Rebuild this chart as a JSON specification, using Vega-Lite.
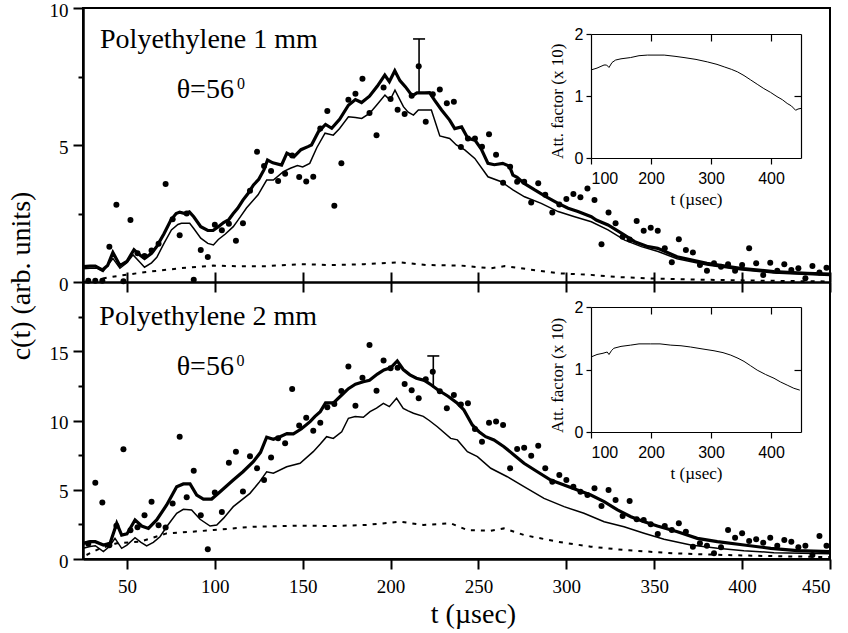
{
"$schema":"https://vega.github.io/schema/vega-lite/v6.json",
"width":747,"height":551,
"autosize":{"type":"none"},
"padding":{"left":83,"top":8,"right":18,"bottom":74},
"background":"white",
"config":{
 "view":{"stroke":"black","strokeWidth":2},
 "font":"Liberation Serif, Times New Roman, Times, serif",
 "text":{"font":"Liberation Serif, Times New Roman, Times, serif"},
 "axis":{"grid":false,"labelOverlap":false,"domainColor":"black","tickColor":"black","labelColor":"black","titleColor":"black","labelFont":"Liberation Serif, Times New Roman, Times, serif","titleFont":"Liberation Serif, Times New Roman, Times, serif","titleFontWeight":"normal","tickWidth":2,"domainWidth":2,"labelFontSize":19}
},
"datasets":{
 "pts1":[{"t":28,"c":0.05},{"t":32,"c":0.05},{"t":36,"c":0.05},{"t":40,"c":1.29},{"t":44,"c":2.82},{"t":48,"c":0.03},{"t":52,"c":2.26},{"t":56,"c":1.05},{"t":60,"c":0.95},{"t":64,"c":1.15},{"t":68,"c":1.4},{"t":72,"c":3.58},{"t":76,"c":2.29},{"t":80,"c":1.71},{"t":84,"c":2.5},{"t":88,"c":0.08},{"t":92,"c":1.17},{"t":96,"c":0.91},{"t":100,"c":2.09},{"t":104,"c":1.89},{"t":108,"c":2.13},{"t":112,"c":1.51},{"t":116,"c":2.14},{"t":120,"c":3.33},{"t":124,"c":4.75},{"t":128,"c":4.23},{"t":132,"c":4.05},{"t":136,"c":3.69},{"t":140,"c":3.95},{"t":144,"c":4.62},{"t":148,"c":3.83},{"t":152,"c":3.67},{"t":156,"c":3.84},{"t":160,"c":5.6},{"t":164,"c":6.24},{"t":168,"c":2.78},{"t":172,"c":4.33},{"t":176,"c":6.65},{"t":180,"c":6.87},{"t":184,"c":7.42},{"t":188,"c":6.17},{"t":192,"c":5.36},{"t":196,"c":7.1},{"t":200,"c":6.68},{"t":204,"c":6.29},{"t":208,"c":6.13},{"t":212,"c":6.8},{"t":216,"c":7.87},{"t":220,"c":5.85},{"t":224,"c":6.85},{"t":228,"c":7.03},{"t":232,"c":6.52},{"t":236,"c":6.58},{"t":240,"c":4.93},{"t":244,"c":5.24},{"t":248,"c":5.24},{"t":252,"c":4.94},{"t":256,"c":5.39},{"t":260,"c":4.64},{"t":264,"c":3.62},{"t":268,"c":4.21},{"t":272,"c":3.66},{"t":276,"c":3.66},{"t":280,"c":2.9},{"t":284,"c":3.6},{"t":288,"c":3.18},{"t":292,"c":2.54},{"t":296,"c":2.83},{"t":300,"c":3.03},{"t":304,"c":3.21},{"t":308,"c":3.09},{"t":312,"c":3.41},{"t":316,"c":2.99},{"t":320,"c":1.38},{"t":324,"c":2.54},{"t":328,"c":2.14},{"t":332,"c":1.65},{"t":336,"c":1.55},{"t":340,"c":2.23},{"t":344,"c":1.87},{"t":348,"c":1.98},{"t":352,"c":1.87},{"t":356,"c":1.23},{"t":360,"c":0.72},{"t":364,"c":1.56},{"t":368,"c":1.17},{"t":372,"c":1.08},{"t":376,"c":0.62},{"t":380,"c":0.41},{"t":384,"c":0.68},{"t":388,"c":0.56},{"t":392,"c":0.65},{"t":396,"c":0.41},{"t":400,"c":0.62},{"t":404,"c":1.23},{"t":408,"c":0.68},{"t":412,"c":0.26},{"t":416,"c":0.7},{"t":420,"c":0.41},{"t":424,"c":0.65},{"t":428,"c":0.44},{"t":432,"c":0.5},{"t":436,"c":0.14},{"t":440,"c":0.58},{"t":444,"c":0.35},{"t":448,"c":0.52}],
 "thick1":[{"t":25,"c":0.56},{"t":29,"c":0.58},{"t":32,"c":0.58},{"t":36,"c":0.44},{"t":39,"c":0.6},{"t":42,"c":1.08},{"t":46,"c":0.6},{"t":50,"c":0.75},{"t":54,"c":1.18},{"t":57,"c":1.0},{"t":60,"c":0.86},{"t":64,"c":1.05},{"t":67,"c":1.3},{"t":71,"c":1.75},{"t":75,"c":2.26},{"t":78,"c":2.5},{"t":80,"c":2.55},{"t":83,"c":2.5},{"t":85.5,"c":2.56},{"t":88,"c":2.38},{"t":92,"c":2.02},{"t":96,"c":1.88},{"t":99,"c":1.88},{"t":102,"c":2.02},{"t":105,"c":2.17},{"t":108,"c":2.28},{"t":110.5,"c":2.5},{"t":113,"c":2.69},{"t":116,"c":2.99},{"t":119,"c":3.24},{"t":122,"c":3.54},{"t":125,"c":3.75},{"t":128,"c":4.1},{"t":130,"c":4.45},{"t":133,"c":4.35},{"t":138,"c":4.27},{"t":141,"c":4.7},{"t":145,"c":4.57},{"t":149,"c":4.83},{"t":153,"c":4.94},{"t":155,"c":5.0},{"t":159,"c":5.49},{"t":163,"c":5.75},{"t":166.5,"c":5.61},{"t":171,"c":5.94},{"t":176,"c":6.45},{"t":180,"c":6.66},{"t":183.5,"c":6.55},{"t":188,"c":6.78},{"t":192.5,"c":7.15},{"t":196.7,"c":7.55},{"t":199.3,"c":7.31},{"t":202.4,"c":7.71},{"t":205.3,"c":7.35},{"t":208.5,"c":7.12},{"t":212.3,"c":6.79},{"t":215,"c":6.9},{"t":219.4,"c":6.9},{"t":222.2,"c":6.91},{"t":225,"c":6.64},{"t":229,"c":6.28},{"t":233.6,"c":5.91},{"t":236.5,"c":5.6},{"t":240.4,"c":5.66},{"t":244,"c":5.24},{"t":248,"c":5.18},{"t":251.6,"c":4.85},{"t":255.4,"c":4.33},{"t":259,"c":4.28},{"t":263.8,"c":4.33},{"t":267.7,"c":4.22},{"t":269.6,"c":3.9},{"t":272,"c":3.82},{"t":276,"c":3.6},{"t":282,"c":3.36},{"t":288.6,"c":3.11},{"t":295.3,"c":2.87},{"t":301,"c":2.69},{"t":306.6,"c":2.57},{"t":314.2,"c":2.38},{"t":317,"c":2.26},{"t":323.7,"c":2.08},{"t":331.3,"c":1.78},{"t":338.9,"c":1.47},{"t":346.5,"c":1.29},{"t":352,"c":1.23},{"t":363,"c":0.92},{"t":380,"c":0.68},{"t":399,"c":0.5},{"t":418,"c":0.38},{"t":437,"c":0.32},{"t":450,"c":0.29}],
 "thin1":[{"t":25,"c":0.48},{"t":29,"c":0.5},{"t":33,"c":0.5},{"t":36.4,"c":0.38},{"t":42,"c":0.86},{"t":46,"c":0.5},{"t":50,"c":0.7},{"t":53.5,"c":0.99},{"t":57,"c":0.75},{"t":60,"c":0.54},{"t":64,"c":0.7},{"t":67,"c":0.9},{"t":71,"c":1.4},{"t":75.3,"c":1.9},{"t":79,"c":2.1},{"t":81,"c":2.14},{"t":85.7,"c":2.14},{"t":88,"c":1.95},{"t":92,"c":1.6},{"t":96,"c":1.41},{"t":99.2,"c":1.35},{"t":102,"c":1.55},{"t":106,"c":1.75},{"t":110.5,"c":2.02},{"t":113.2,"c":2.26},{"t":118,"c":2.7},{"t":124.6,"c":3.18},{"t":129.5,"c":3.72},{"t":133.3,"c":3.72},{"t":139,"c":4.03},{"t":143,"c":4.15},{"t":147,"c":4.25},{"t":150,"c":4.2},{"t":154,"c":4.33},{"t":158,"c":4.9},{"t":162.7,"c":5.43},{"t":167.4,"c":5.36},{"t":171,"c":5.6},{"t":176,"c":6.03},{"t":180,"c":6.0},{"t":183.6,"c":5.97},{"t":188,"c":6.15},{"t":192,"c":6.45},{"t":196.8,"c":6.82},{"t":199.7,"c":6.64},{"t":202.5,"c":7.0},{"t":207.3,"c":6.4},{"t":210,"c":6.2},{"t":213,"c":6.09},{"t":215.8,"c":6.28},{"t":219.4,"c":6.28},{"t":223.2,"c":6.28},{"t":228,"c":5.33},{"t":233.6,"c":5.24},{"t":237.4,"c":5.0},{"t":242.2,"c":4.82},{"t":247.9,"c":4.51},{"t":255.4,"c":3.84},{"t":263,"c":3.66},{"t":269.6,"c":3.36},{"t":276.2,"c":3.11},{"t":285.7,"c":2.87},{"t":295.3,"c":2.57},{"t":304.7,"c":2.38},{"t":314.2,"c":2.2},{"t":323.7,"c":1.9},{"t":333.2,"c":1.53},{"t":342.7,"c":1.29},{"t":352.2,"c":1.11},{"t":363,"c":0.85},{"t":380,"c":0.62},{"t":399,"c":0.45},{"t":418,"c":0.33},{"t":437,"c":0.27},{"t":450,"c":0.24}],
 "dot1":[{"t":25,"c":0.0},{"t":30,"c":0.05},{"t":40,"c":0.17},{"t":50,"c":0.27},{"t":63,"c":0.38},{"t":80,"c":0.5},{"t":99,"c":0.6},{"t":115,"c":0.57},{"t":130,"c":0.58},{"t":148,"c":0.65},{"t":166,"c":0.62},{"t":185,"c":0.65},{"t":205,"c":0.72},{"t":220,"c":0.62},{"t":240,"c":0.6},{"t":257,"c":0.5},{"t":265,"c":0.58},{"t":280,"c":0.45},{"t":295,"c":0.32},{"t":314,"c":0.26},{"t":330,"c":0.18},{"t":348,"c":0.13},{"t":380,"c":0.08},{"t":420,"c":0.04},{"t":450,"c":0.02}],
 "att1":[{"t":100,"c":1.42},{"t":110,"c":1.45},{"t":121.7,"c":1.5},{"t":126,"c":1.5},{"t":130,"c":1.46},{"t":135,"c":1.54},{"t":141,"c":1.58},{"t":150,"c":1.6},{"t":166,"c":1.62},{"t":180,"c":1.65},{"t":194,"c":1.66},{"t":210,"c":1.66},{"t":222,"c":1.66},{"t":240,"c":1.64},{"t":255,"c":1.62},{"t":275,"c":1.59},{"t":294,"c":1.55},{"t":310,"c":1.51},{"t":322,"c":1.47},{"t":334,"c":1.43},{"t":344,"c":1.39},{"t":355,"c":1.33},{"t":366,"c":1.26},{"t":377,"c":1.19},{"t":388,"c":1.12},{"t":399,"c":1.06},{"t":410,"c":0.99},{"t":419,"c":0.94},{"t":427,"c":0.88},{"t":434,"c":0.84},{"t":441,"c":0.77},{"t":445,"c":0.79},{"t":450,"c":0.8}],
 "pts2":[{"t":28,"c":1.1},{"t":32,"c":5.5},{"t":36,"c":4.08},{"t":40,"c":1.0},{"t":44,"c":2.4},{"t":48,"c":7.93},{"t":52,"c":2.08},{"t":56,"c":2.3},{"t":60,"c":3.15},{"t":64,"c":4.14},{"t":68,"c":2.43},{"t":72,"c":2.27},{"t":76,"c":4.0},{"t":80,"c":8.83},{"t":84,"c":4.45},{"t":88,"c":6.38},{"t":92,"c":3.15},{"t":96,"c":0.7},{"t":100,"c":4.81},{"t":104,"c":3.4},{"t":108,"c":6.95},{"t":112,"c":7.75},{"t":116,"c":4.88},{"t":120,"c":7.41},{"t":124,"c":6.55},{"t":128,"c":5.7},{"t":132,"c":7.33},{"t":136,"c":8.71},{"t":140,"c":8.35},{"t":144,"c":12.27},{"t":148,"c":9.63},{"t":152,"c":10.2},{"t":156,"c":9.26},{"t":160,"c":9.84},{"t":164,"c":10.95},{"t":168,"c":11.19},{"t":172,"c":12.13},{"t":176,"c":13.89},{"t":180,"c":11.07},{"t":184,"c":13.09},{"t":188,"c":15.45},{"t":192,"c":12.15},{"t":196,"c":14.34},{"t":200,"c":13.77},{"t":204,"c":13.8},{"t":208,"c":12.64},{"t":212,"c":12.18},{"t":216,"c":11.6},{"t":220,"c":12.97},{"t":224,"c":13.52},{"t":228,"c":12.12},{"t":232,"c":10.88},{"t":236,"c":11.84},{"t":240,"c":11.15},{"t":244,"c":11.24},{"t":248,"c":9.39},{"t":252,"c":8.47},{"t":256,"c":9.84},{"t":260,"c":9.92},{"t":264,"c":9.68},{"t":268,"c":6.55},{"t":272,"c":7.94},{"t":276,"c":8.04},{"t":280,"c":7.46},{"t":284,"c":8.18},{"t":288,"c":6.55},{"t":292,"c":5.58},{"t":296,"c":6.06},{"t":300,"c":5.7},{"t":304,"c":5.22},{"t":308,"c":4.86},{"t":312,"c":4.62},{"t":316,"c":5.1},{"t":320,"c":3.83},{"t":324,"c":4.98},{"t":328,"c":4.26},{"t":332,"c":3.1},{"t":336,"c":4.19},{"t":340,"c":2.87},{"t":344,"c":2.82},{"t":348,"c":2.51},{"t":352,"c":1.8},{"t":356,"c":2.38},{"t":360,"c":2.09},{"t":364,"c":2.58},{"t":368,"c":1.97},{"t":372,"c":0.89},{"t":376,"c":1.13},{"t":380,"c":0.96},{"t":384,"c":0.41},{"t":388,"c":0.84},{"t":392,"c":2.09},{"t":396,"c":1.54},{"t":400,"c":1.86},{"t":404,"c":1.3},{"t":408,"c":1.42},{"t":412,"c":1.18},{"t":416,"c":1.54},{"t":420,"c":0.96},{"t":424,"c":1.37},{"t":428,"c":1.25},{"t":432,"c":0.84},{"t":436,"c":0.96},{"t":440,"c":0.29},{"t":444,"c":1.66},{"t":448,"c":0.96}],
 "thick2":[{"t":25,"c":1.13},{"t":29,"c":1.25},{"t":32,"c":1.25},{"t":36.6,"c":1.01},{"t":40.4,"c":1.13},{"t":44.2,"c":2.58},{"t":47,"c":1.73},{"t":50,"c":1.81},{"t":54.6,"c":2.82},{"t":58.4,"c":2.38},{"t":62.2,"c":2.21},{"t":66.9,"c":2.82},{"t":72.6,"c":3.9},{"t":78.3,"c":5.22},{"t":82.1,"c":5.42},{"t":85.9,"c":5.42},{"t":89.7,"c":4.62},{"t":93.5,"c":4.33},{"t":98.2,"c":4.33},{"t":103,"c":4.86},{"t":110.5,"c":5.7},{"t":116,"c":6.3},{"t":121.9,"c":7.03},{"t":126,"c":7.7},{"t":129.5,"c":8.79},{"t":133.3,"c":8.64},{"t":137.1,"c":8.83},{"t":141,"c":9.05},{"t":144.7,"c":9.03},{"t":149.3,"c":9.4},{"t":154.2,"c":9.92},{"t":157,"c":10.3},{"t":160,"c":10.64},{"t":163,"c":11.27},{"t":167.5,"c":11.27},{"t":172.2,"c":11.84},{"t":176,"c":12.3},{"t":180,"c":12.62},{"t":184.5,"c":12.8},{"t":188,"c":12.9},{"t":192.5,"c":13.35},{"t":196.2,"c":13.65},{"t":200,"c":13.8},{"t":203.8,"c":14.3},{"t":207.2,"c":13.68},{"t":211,"c":13.3},{"t":214.7,"c":13.05},{"t":219.2,"c":12.9},{"t":223.2,"c":12.56},{"t":227,"c":12.2},{"t":232.7,"c":11.75},{"t":238,"c":11.24},{"t":241.7,"c":10.76},{"t":246.5,"c":9.68},{"t":250.3,"c":9.19},{"t":254.1,"c":8.83},{"t":258.8,"c":8.59},{"t":264.5,"c":8.11},{"t":270.2,"c":7.51},{"t":275.9,"c":6.91},{"t":283.5,"c":6.3},{"t":291.1,"c":5.7},{"t":298.7,"c":5.34},{"t":306.3,"c":4.98},{"t":313.9,"c":4.62},{"t":321.5,"c":4.14},{"t":329.1,"c":3.54},{"t":336.7,"c":3.05},{"t":344.3,"c":2.69},{"t":351.8,"c":2.38},{"t":363.2,"c":1.97},{"t":374.5,"c":1.49},{"t":385.9,"c":1.25},{"t":401.1,"c":1.01},{"t":416.3,"c":0.77},{"t":431.4,"c":0.6},{"t":450,"c":0.53}],
 "thin2":[{"t":25,"c":0.77},{"t":29,"c":0.9},{"t":32,"c":0.96},{"t":36.6,"c":0.53},{"t":40,"c":0.9},{"t":43.2,"c":1.49},{"t":47,"c":0.77},{"t":50,"c":1.0},{"t":54.6,"c":1.54},{"t":58,"c":1.2},{"t":61.2,"c":0.94},{"t":65,"c":1.2},{"t":68.8,"c":1.61},{"t":73,"c":2.4},{"t":78.3,"c":3.3},{"t":82.1,"c":3.59},{"t":86.8,"c":3.54},{"t":91.6,"c":2.87},{"t":97.3,"c":2.38},{"t":101.1,"c":2.46},{"t":105,"c":2.95},{"t":110.5,"c":3.78},{"t":120,"c":4.74},{"t":125,"c":5.5},{"t":129.5,"c":6.3},{"t":133.3,"c":6.19},{"t":140.9,"c":6.66},{"t":148.5,"c":6.91},{"t":156,"c":7.75},{"t":160,"c":8.3},{"t":163.6,"c":8.83},{"t":167.4,"c":8.71},{"t":172.2,"c":9.19},{"t":176,"c":10.16},{"t":179.8,"c":10.28},{"t":184.5,"c":10.23},{"t":188.3,"c":10.64},{"t":192,"c":10.9},{"t":195.9,"c":11.24},{"t":199.3,"c":11.0},{"t":203.4,"c":11.6},{"t":207.2,"c":10.88},{"t":210,"c":10.7},{"t":213,"c":10.52},{"t":218.6,"c":10.3},{"t":222,"c":10.0},{"t":226.6,"c":9.55},{"t":234.2,"c":8.71},{"t":238,"c":8.6},{"t":243.7,"c":7.75},{"t":249.4,"c":7.39},{"t":257,"c":6.55},{"t":266.4,"c":5.94},{"t":275.9,"c":5.22},{"t":287.3,"c":4.38},{"t":298.7,"c":3.78},{"t":310,"c":3.3},{"t":321.5,"c":2.69},{"t":332.8,"c":2.33},{"t":344.2,"c":1.86},{"t":355.6,"c":1.42},{"t":370.8,"c":1.01},{"t":386,"c":0.77},{"t":401,"c":0.6},{"t":418.1,"c":0.46},{"t":450,"c":0.38}],
 "dot2":[{"t":27,"c":0.29},{"t":34.7,"c":0.77},{"t":44.2,"c":1.13},{"t":57.4,"c":1.25},{"t":72.6,"c":1.85},{"t":85,"c":1.95},{"t":99.2,"c":2.09},{"t":121.9,"c":2.33},{"t":148.5,"c":2.41},{"t":167.4,"c":2.38},{"t":186.4,"c":2.46},{"t":205.4,"c":2.69},{"t":218.6,"c":2.46},{"t":234.2,"c":2.58},{"t":243.7,"c":2.09},{"t":257,"c":2.04},{"t":264.5,"c":2.21},{"t":275.9,"c":1.73},{"t":294.9,"c":1.25},{"t":313.9,"c":0.89},{"t":332.8,"c":0.65},{"t":361.3,"c":0.41},{"t":389.7,"c":0.29},{"t":420,"c":0.2},{"t":450,"c":0.14}],
 "att2":[{"t":100,"c":1.2},{"t":110,"c":1.24},{"t":120,"c":1.26},{"t":127,"c":1.28},{"t":130,"c":1.24},{"t":134,"c":1.3},{"t":138,"c":1.34},{"t":150,"c":1.37},{"t":166,"c":1.39},{"t":180,"c":1.41},{"t":199,"c":1.41},{"t":215,"c":1.41},{"t":233,"c":1.39},{"t":250,"c":1.38},{"t":266,"c":1.36},{"t":285,"c":1.33},{"t":305,"c":1.3},{"t":320,"c":1.27},{"t":333,"c":1.23},{"t":345,"c":1.18},{"t":355,"c":1.13},{"t":366,"c":1.06},{"t":377,"c":0.99},{"t":391,"c":0.92},{"t":405,"c":0.86},{"t":416,"c":0.8},{"t":427,"c":0.75},{"t":438,"c":0.7},{"t":448,"c":0.67}],
 "err1":[{"t":216.2,"c":7.88,"lo":6.89,"hi":8.87}],
 "err2":[{"t":224.3,"c":13.52,"lo":12.38,"hi":14.66}],
 "lbl1":[{"t":34.7,"c":8.53,"s":"Polyethylene 1 mm"},{"t":78.3,"c":6.73,"s":"θ=56"}],
 "sup1":[{"t":112.6,"c":7.04,"s":"0"}],
 "lbl2":[{"t":34.3,"c":16.9,"s":"Polyethylene 2 mm"},{"t":78.3,"c":13.29,"s":"θ=56"}],
 "sup2":[{"t":112.4,"c":13.94,"s":"0"}]
},
"resolve":{"scale":{"x":"independent","y":"independent"},"axis":{"x":"independent","y":"independent"}},
"layer":[
 {
  "resolve":{"axis":{"x":"independent","y":"independent"}},
  "layer":[
   {"data":{"name":"dot1"},"mark":{"type":"line","strokeWidth":2,"strokeDash":[4,6],"color":"black"},
    "encoding":{
     "x":{"field":"t","type":"quantitative","scale":{"domain":[25,450],"nice":false,"zero":false},"axis":{"orient":"bottom","offset":-277,"values":[50,100,150,200,250,300,350,400,450],"labels":false,"tickSize":-10,"domainWidth":2.5,"title":null}},
     "y":{"field":"c","type":"quantitative","scale":{"domain":[0,10],"range":[274,0],"nice":false,"zero":false},"axis":{"orient":"left","values":[0,5,10],"tickSize":10,"labelPadding":5,"labelOffset":2,"domainWidth":2.5,"title":"c(t) (arb. units)","titleFontSize":28,"titleX":-48,"titleY":267.5}}}},
   {"data":{"name":"thin1"},"mark":{"type":"line","strokeWidth":1.5,"color":"black"},
    "encoding":{
     "x":{"field":"t","type":"quantitative","scale":{"domain":[25,450],"nice":false,"zero":false},"axis":null},
     "y":{"field":"c","type":"quantitative","scale":{"domain":[0,10],"range":[274,0],"nice":false,"zero":false},"axis":{"orient":"left","values":[2.5,7.5],"tickSize":5,"labels":false,"domain":false,"title":null}}}},
   {"data":{"name":"thick1"},"mark":{"type":"line","strokeWidth":3.2,"color":"black"},
    "encoding":{
     "x":{"field":"t","type":"quantitative","scale":{"domain":[25,450],"nice":false,"zero":false},"axis":null},
     "y":{"field":"c","type":"quantitative","scale":{"domain":[0,10],"range":[274,0],"nice":false,"zero":false},"axis":null}}},
   {"data":{"name":"pts1"},"mark":{"type":"circle","size":36,"opacity":1,"color":"black"},
    "encoding":{
     "x":{"field":"t","type":"quantitative","scale":{"domain":[25,450],"nice":false,"zero":false},"axis":null},
     "y":{"field":"c","type":"quantitative","scale":{"domain":[0,10],"range":[274,0],"nice":false,"zero":false},"axis":null}}},
   {"data":{"name":"err1"},"mark":{"type":"rule","strokeWidth":1.6,"color":"black"},
    "encoding":{
     "x":{"field":"t","type":"quantitative","scale":{"domain":[25,450],"nice":false,"zero":false},"axis":null},
     "y":{"field":"lo","type":"quantitative","scale":{"domain":[0,10],"range":[274,0],"nice":false,"zero":false},"axis":null},
     "y2":{"field":"hi"}}},
   {"data":{"name":"err1"},"mark":{"type":"tick","orient":"horizontal","size":12,"thickness":1.6,"opacity":1,"color":"black"},
    "encoding":{
     "x":{"field":"t","type":"quantitative","scale":{"domain":[25,450],"nice":false,"zero":false},"axis":null},
     "y":{"field":"hi","type":"quantitative","scale":{"domain":[0,10],"range":[274,0],"nice":false,"zero":false},"axis":null}}},
   {"data":{"name":"lbl1"},"mark":{"type":"text","align":"left","baseline":"alphabetic","fontSize":28,"font":"Liberation Serif, Times New Roman, Times, serif","color":"black"},
    "encoding":{
     "x":{"field":"t","type":"quantitative","scale":{"domain":[25,450],"nice":false,"zero":false},"axis":null},
     "y":{"field":"c","type":"quantitative","scale":{"domain":[0,10],"range":[274,0],"nice":false,"zero":false},"axis":null},
     "text":{"field":"s"}}},
   {"data":{"name":"sup1"},"mark":{"type":"text","align":"left","baseline":"alphabetic","fontSize":16,"font":"Liberation Serif, Times New Roman, Times, serif","color":"black"},
    "encoding":{
     "x":{"field":"t","type":"quantitative","scale":{"domain":[25,450],"nice":false,"zero":false},"axis":null},
     "y":{"field":"c","type":"quantitative","scale":{"domain":[0,10],"range":[274,0],"nice":false,"zero":false},"axis":null},
     "text":{"field":"s"}}}
  ]
 },
 {
  "resolve":{"axis":{"x":"independent","y":"independent"}},
  "layer":[
   {"data":{"name":"dot2"},"mark":{"type":"line","strokeWidth":2,"strokeDash":[4,6],"color":"black"},
    "encoding":{
     "x":{"field":"t","type":"quantitative","scale":{"domain":[25,450],"nice":false,"zero":false},"axis":{"orient":"bottom","values":[50,100,150,200,250,300,350,400,450],"tickSize":10,"labelPadding":8,"domainWidth":2.5,"title":"t (µsec)","titleFontSize":28,"titleX":390,"titleY":63,"titleBaseline":"alphabetic"}},
     "y":{"field":"c","type":"quantitative","scale":{"domain":[0,20],"range":[551,274],"nice":false,"zero":false},"axis":{"orient":"left","values":[0,5,10,15],"tickSize":10,"labelPadding":5,"labelOffset":2,"domainWidth":2.5,"title":null}}}},
   {"data":{"name":"thin2"},"mark":{"type":"line","strokeWidth":1.5,"color":"black"},
    "encoding":{
     "x":{"field":"t","type":"quantitative","scale":{"domain":[25,450],"nice":false,"zero":false},"axis":{"orient":"top","offset":-274,"values":[50,100,150,200,250,300,350,400,450],"tickSize":-10,"labels":false,"domain":false,"title":null}},
     "y":{"field":"c","type":"quantitative","scale":{"domain":[0,20],"range":[551,274],"nice":false,"zero":false},"axis":{"orient":"left","values":[2.5,7.5,12.5,17.5],"tickSize":5,"labels":false,"domain":false,"title":null}}}},
   {"data":{"name":"thick2"},"mark":{"type":"line","strokeWidth":3.2,"color":"black"},
    "encoding":{
     "x":{"field":"t","type":"quantitative","scale":{"domain":[25,450],"nice":false,"zero":false},"axis":null},
     "y":{"field":"c","type":"quantitative","scale":{"domain":[0,20],"range":[551,274],"nice":false,"zero":false},"axis":null}}},
   {"data":{"name":"pts2"},"mark":{"type":"circle","size":36,"opacity":1,"color":"black"},
    "encoding":{
     "x":{"field":"t","type":"quantitative","scale":{"domain":[25,450],"nice":false,"zero":false},"axis":null},
     "y":{"field":"c","type":"quantitative","scale":{"domain":[0,20],"range":[551,274],"nice":false,"zero":false},"axis":null}}},
   {"data":{"name":"err2"},"mark":{"type":"rule","strokeWidth":1.6,"color":"black"},
    "encoding":{
     "x":{"field":"t","type":"quantitative","scale":{"domain":[25,450],"nice":false,"zero":false},"axis":null},
     "y":{"field":"lo","type":"quantitative","scale":{"domain":[0,20],"range":[551,274],"nice":false,"zero":false},"axis":null},
     "y2":{"field":"hi"}}},
   {"data":{"name":"err2"},"mark":{"type":"tick","orient":"horizontal","size":12,"thickness":1.6,"opacity":1,"color":"black"},
    "encoding":{
     "x":{"field":"t","type":"quantitative","scale":{"domain":[25,450],"nice":false,"zero":false},"axis":null},
     "y":{"field":"hi","type":"quantitative","scale":{"domain":[0,20],"range":[551,274],"nice":false,"zero":false},"axis":null}}},
   {"data":{"name":"lbl2"},"mark":{"type":"text","align":"left","baseline":"alphabetic","fontSize":28,"font":"Liberation Serif, Times New Roman, Times, serif","color":"black"},
    "encoding":{
     "x":{"field":"t","type":"quantitative","scale":{"domain":[25,450],"nice":false,"zero":false},"axis":null},
     "y":{"field":"c","type":"quantitative","scale":{"domain":[0,20],"range":[551,274],"nice":false,"zero":false},"axis":null},
     "text":{"field":"s"}}},
   {"data":{"name":"sup2"},"mark":{"type":"text","align":"left","baseline":"alphabetic","fontSize":16,"font":"Liberation Serif, Times New Roman, Times, serif","color":"black"},
    "encoding":{
     "x":{"field":"t","type":"quantitative","scale":{"domain":[25,450],"nice":false,"zero":false},"axis":null},
     "y":{"field":"c","type":"quantitative","scale":{"domain":[0,20],"range":[551,274],"nice":false,"zero":false},"axis":null},
     "text":{"field":"s"}}}
  ]
 },
 {
  "resolve":{"axis":{"x":"independent","y":"independent"}},
  "layer":[
   {"data":{"name":"att1"},"mark":{"type":"line","strokeWidth":1,"color":"black"},
    "encoding":{
     "x":{"field":"t","type":"quantitative","scale":{"domain":[100,450],"range":[508,718],"nice":false,"zero":false},"axis":{"orient":"bottom","offset":-401,"values":[100,200,300,400],"format":"d","tickSize":6,"tickWidth":1.2,"domainWidth":1.2,"labelFont":"Liberation Sans, Arial, sans-serif","labelFontSize":16,"labelPadding":6,"title":"t (µsec)","titleFontSize":17,"titleBaseline":"alphabetic","titleY":46}},
     "y":{"field":"c","type":"quantitative","scale":{"domain":[0,2],"range":[150,26],"nice":false,"zero":false},"axis":{"orient":"left","offset":-508,"values":[0,0.5,1,1.5,2],"labelExpr":"datum.value == 0 ? '0' : datum.value == 1 ? '1' : datum.value == 2 ? '2' : ''","tickOpacity":{"condition":{"test":"datum.value == 0.5 || datum.value == 1.5","value":0},"value":1},"labelOverlap":false,"labelFlush":false,"tickSize":5,"tickWidth":1.2,"domainWidth":1.2,"labelFont":"Liberation Sans, Arial, sans-serif","labelFontSize":16,"labelPadding":3,"title":"Att. factor (x 10)","titleFontSize":17,"titleX":-25,"titleY":92.8}}}},
   {"data":{"name":"att1"},"mark":{"type":"line","strokeWidth":1,"color":"black","strokeOpacity":0},
    "encoding":{
     "x":{"field":"t","type":"quantitative","scale":{"domain":[100,450],"range":[508,718],"nice":false,"zero":false},"axis":{"orient":"top","offset":-26,"values":[200,300,400],"tickSize":-7,"tickWidth":1.2,"domainWidth":1.2,"labels":false,"title":null}},
     "y":{"field":"c","type":"quantitative","scale":{"domain":[0,2],"range":[150,26],"nice":false,"zero":false},"axis":{"orient":"right","offset":-29,"values":[1],"tickSize":-7,"tickWidth":1.2,"domainWidth":1.2,"labels":false,"title":null}}}}
  ]
 },
 {
  "resolve":{"axis":{"x":"independent","y":"independent"}},
  "layer":[
   {"data":{"name":"att2"},"mark":{"type":"line","strokeWidth":1,"color":"black"},
    "encoding":{
     "x":{"field":"t","type":"quantitative","scale":{"domain":[100,450],"range":[508,718],"nice":false,"zero":false},"axis":{"orient":"bottom","offset":-127,"values":[100,200,300,400],"format":"d","tickSize":6,"tickWidth":1.2,"domainWidth":1.2,"labelFont":"Liberation Sans, Arial, sans-serif","labelFontSize":16,"labelPadding":6,"title":"t (µsec)","titleFontSize":17,"titleBaseline":"alphabetic","titleY":46}},
     "y":{"field":"c","type":"quantitative","scale":{"domain":[0,2],"range":[424,299],"nice":false,"zero":false},"axis":{"orient":"left","offset":-508,"values":[0,0.5,1,1.5,2],"labelExpr":"datum.value == 0 ? '0' : datum.value == 1 ? '1' : datum.value == 2 ? '2' : ''","tickOpacity":{"condition":{"test":"datum.value == 0.5 || datum.value == 1.5","value":0},"value":1},"labelOverlap":false,"labelFlush":false,"tickSize":5,"tickWidth":1.2,"domainWidth":1.2,"labelFont":"Liberation Sans, Arial, sans-serif","labelFontSize":16,"labelPadding":3,"title":"Att. factor (x 10)","titleFontSize":17,"titleX":-25,"titleY":367}}}},
   {"data":{"name":"att2"},"mark":{"type":"line","strokeWidth":1,"color":"black","strokeOpacity":0},
    "encoding":{
     "x":{"field":"t","type":"quantitative","scale":{"domain":[100,450],"range":[508,718],"nice":false,"zero":false},"axis":{"orient":"top","offset":-299,"values":[200,300,400],"tickSize":-7,"tickWidth":1.2,"domainWidth":1.2,"labels":false,"title":null}},
     "y":{"field":"c","type":"quantitative","scale":{"domain":[0,2],"range":[424,299],"nice":false,"zero":false},"axis":{"orient":"right","offset":-29,"values":[1],"tickSize":-7,"tickWidth":1.2,"domainWidth":1.2,"labels":false,"title":null}}}}
  ]
 }
]
}
